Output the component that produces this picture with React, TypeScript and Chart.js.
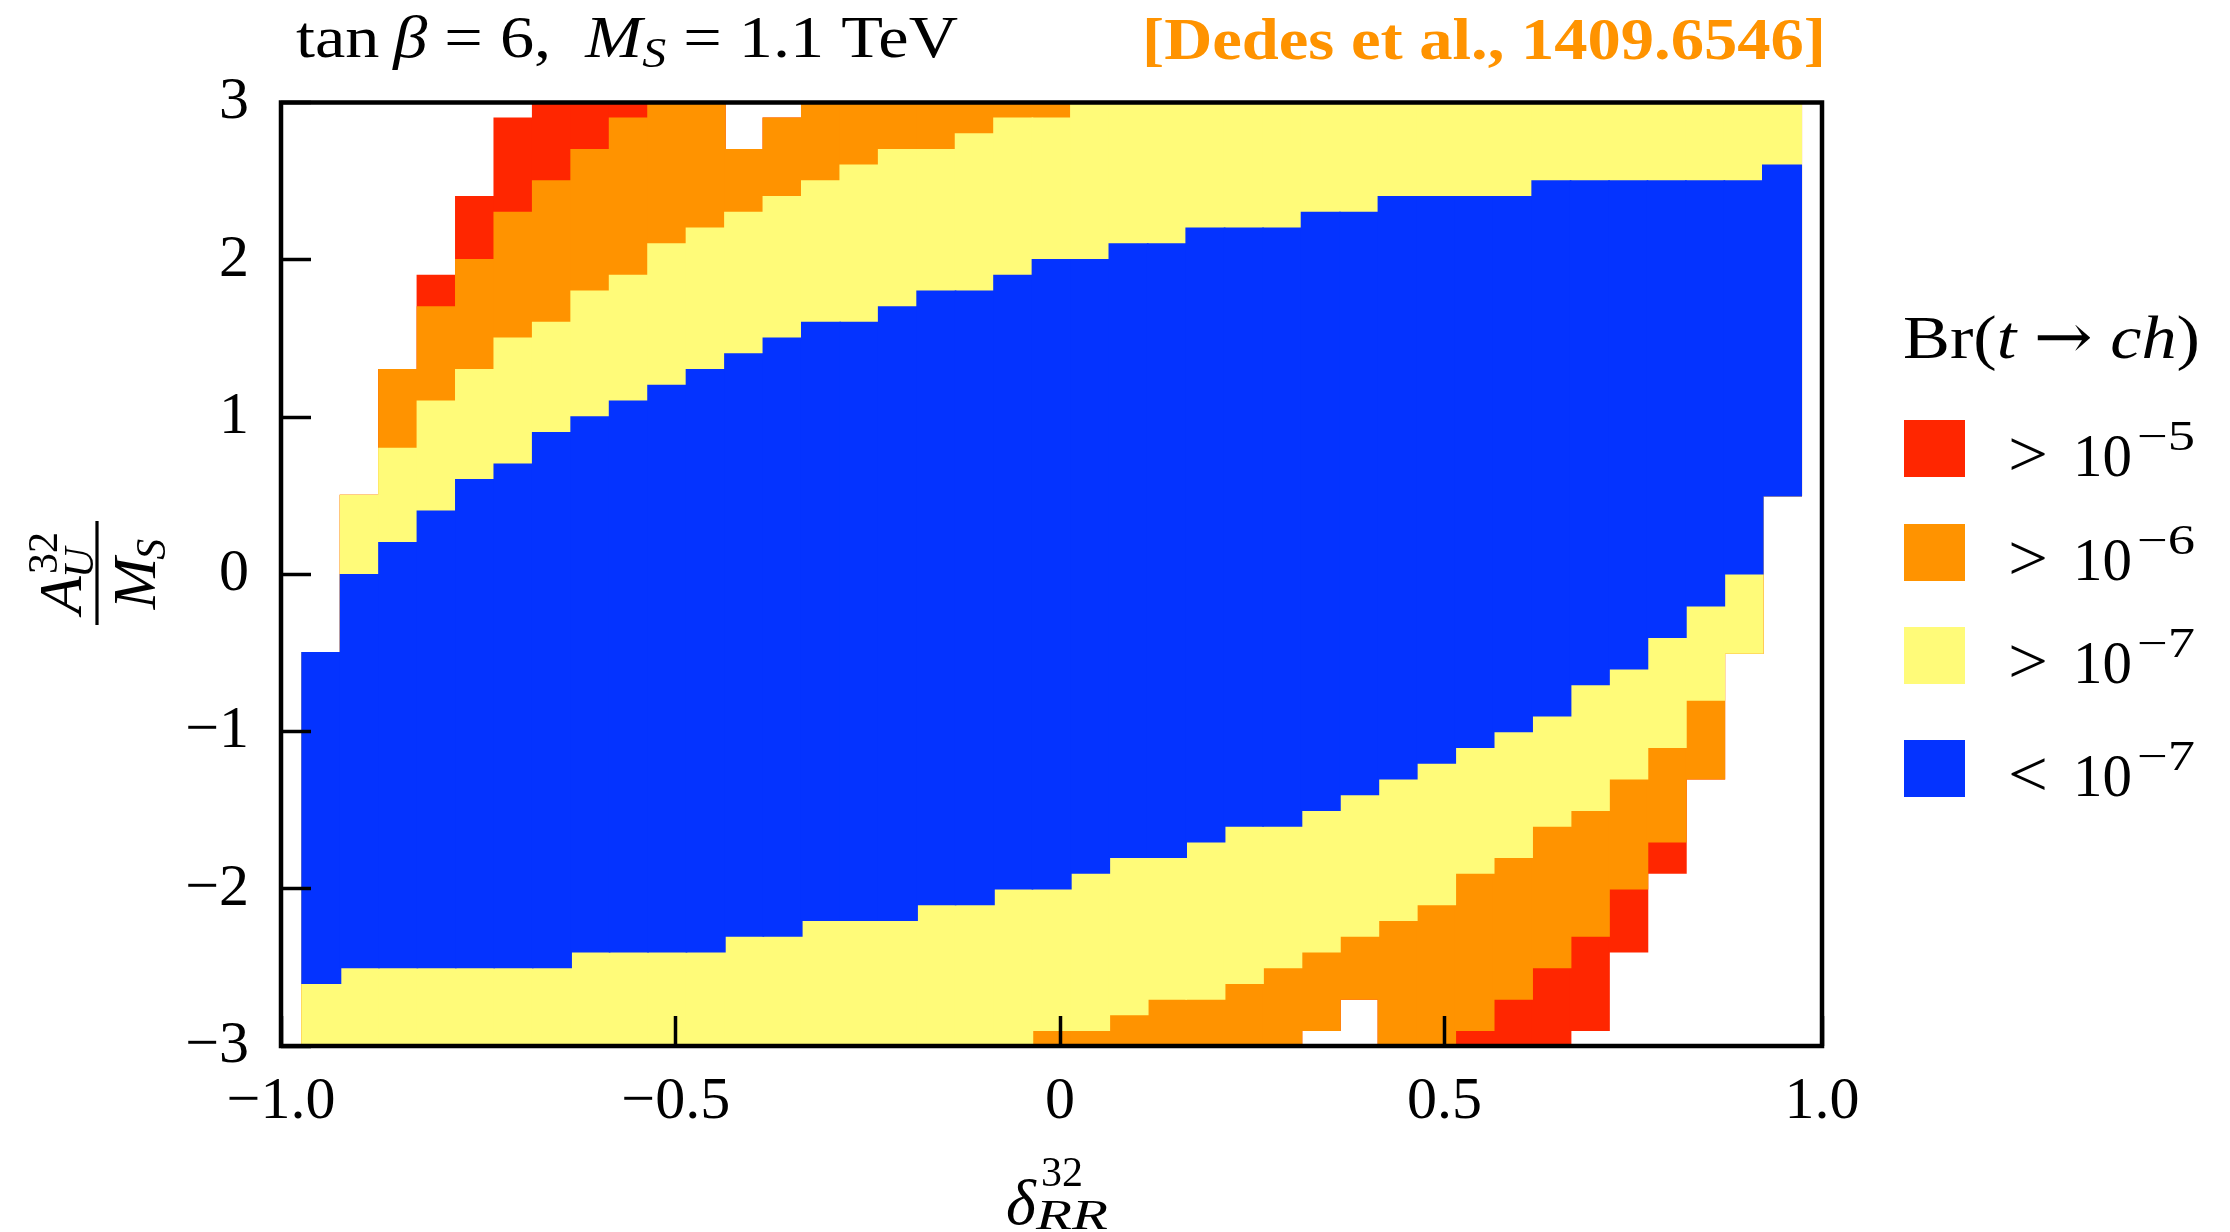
import React, { useEffect, useRef } from "react";
import { Chart, registerables } from "chart.js";

Chart.register(...registerables);

// ---------- data ----------
const X_MIN = -1.0134;
const X_MAX = 0.991;
const Y_MIN = -3;
const Y_MAX = 3;

// centres of the delta_RR^32 columns
const xCenters = [
  -0.961, -0.911, -0.861, -0.811, -0.761, -0.711, -0.661, -0.611, -0.561, -0.511,
  -0.461, -0.411, -0.361, -0.311, -0.261, -0.211, -0.161, -0.111, -0.061, -0.011,
  0.039, 0.089, 0.139, 0.189, 0.239, 0.289, 0.339, 0.389, 0.439, 0.489,
  0.539, 0.589, 0.639, 0.689, 0.739, 0.789, 0.839, 0.889, 0.939,
];

// Br < 1e-7 region (blue)
const blueLo = [
  -2.6, -2.5, -2.5, -2.5, -2.5, -2.5, -2.5, -2.4, -2.4, -2.4,
  -2.4, -2.3, -2.3, -2.2, -2.2, -2.2, -2.1, -2.1, -2.0, -2.0,
  -1.9, -1.8, -1.8, -1.7, -1.6, -1.6, -1.5, -1.4, -1.3, -1.2,
  -1.1, -1.0, -0.9, -0.7, -0.6, -0.4, -0.2, 0.0, 0.5,
];
const blueHi = [
  -0.5, 0.0, 0.2, 0.4, 0.6, 0.7, 0.9, 1.0, 1.1, 1.2,
  1.3, 1.4, 1.5, 1.6, 1.6, 1.7, 1.8, 1.8, 1.9, 2.0,
  2.0, 2.1, 2.1, 2.2, 2.2, 2.2, 2.3, 2.3, 2.4, 2.4,
  2.4, 2.4, 2.5, 2.5, 2.5, 2.5, 2.5, 2.5, 2.6,
];

// outer extent of Br > 1e-7 (yellow)
const yellowLo = [
  -3, -3, -3, -3, -3, -3, -3, -3, -3, -3,
  -3, -3, -3, -3, -3, -3, -3, -3, -3, -2.9,
  -2.9, -2.8, -2.7, -2.7, -2.6, -2.5, -2.4, -2.3, -2.2, -2.1,
  -1.9, -1.8, -1.6, -1.5, -1.3, -1.1, -0.8, -0.5, 0.5,
];
const yellowHi = [
  -0.5, 0.5, 0.8, 1.1, 1.3, 1.5, 1.6, 1.8, 1.9, 2.1,
  2.2, 2.3, 2.4, 2.5, 2.6, 2.7, 2.7, 2.8, 2.9, 2.9,
  3, 3, 3, 3, 3, 3, 3, 3, 3, 3,
  3, 3, 3, 3, 3, 3, 3, 3, 3,
];

// outer extent of Br > 1e-6 (orange)
const orangeLo = [
  -3, -3, -3, -3, -3, -3, -3, -3, -3, -3,
  -3, -3, -3, -3, -3, -3, -3, -3, -3, -3,
  -3, -3, -3, -3, -3, -3, -2.9, -2.7, -3, -3,
  -2.9, -2.7, -2.5, -2.3, -2.0, -1.7, -1.3, -0.5, 0.5,
];
const orangeHi = [
  -0.5, 0.5, 1.3, 1.7, 2.0, 2.3, 2.5, 2.7, 2.9, 3,
  3, 2.7, 2.9, 3, 3, 3, 3, 3, 3, 3,
  3, 3, 3, 3, 3, 3, 3, 3, 3, 3,
  3, 3, 3, 3, 3, 3, 3, 3, 3,
];

// outer extent of Br > 1e-5 (red)
const redLo = [
  -3, -3, -3, -3, -3, -3, -3, -3, -3, -3,
  -3, -3, -3, -3, -3, -3, -3, -3, -3, -3,
  -3, -3, -3, -3, -3, -3, -2.9, -2.7, -3, -3,
  -3, -3, -3, -2.9, -2.4, -1.9, -1.3, -0.5, 0.5,
];
const redHi = [
  -0.5, 0.5, 1.3, 1.9, 2.4, 2.9, 3, 3, 3, 3,
  3, 2.7, 2.9, 3, 3, 3, 3, 3, 3, 3,
  3, 3, 3, 3, 3, 3, 3, 3, 3, 3,
  3, 3, 3, 3, 3, 3, 3, 3, 3,
];

const xTickValues = [X_MIN, -0.5, 0, 0.5, X_MAX];
const xTickLabels = ["\u22121.0", "\u22120.5", "0", "0.5", "1.0"];
const yTickValues = [-3, -2, -1, 0, 1, 2, 3];
const yTickLabels = ["\u22123", "\u22122", "\u22121", "0", "1", "2", "3"];

const legendRelations = [">", ">", ">", "<"];
const legendExponents = ["\u22125", "\u22126", "\u22127", "\u22127"];
const legendDatasetIndex = [3, 2, 1, 0];

const RED = "#FF2600";
const ORANGE = "#FF9300";
const YELLOW = "#FFFB79";
const BLUE = "#0433FF";
const CITE_COLOR = "#FF9300";

const FONT = '"Liberation Serif", "Times New Roman", serif';

// ---------- text helpers ----------
type Seg = { t: string; it?: boolean; b?: boolean; s: number; dy?: number; dx?: number; f?: string };

function fontOf(seg: Seg) {
  return `${seg.it ? "italic " : ""}${seg.b ? "bold " : ""}${seg.s}px ${seg.f || FONT}`;
}

function segWidth(ctx: CanvasRenderingContext2D, segs: Seg[]) {
  let w = 0;
  for (const sg of segs) {
    ctx.font = fontOf(sg);
    w += ctx.measureText(sg.t).width + (sg.dx || 0);
  }
  return w;
}

function drawSegs(
  ctx: CanvasRenderingContext2D,
  segs: Seg[],
  x: number,
  y: number,
  targetWidth?: number,
  color = "#000"
) {
  const w = segWidth(ctx, segs);
  const sx = targetWidth ? targetWidth / w : 1;
  ctx.save();
  ctx.translate(x, y);
  ctx.scale(sx, 1);
  ctx.fillStyle = color;
  ctx.textBaseline = "alphabetic";
  ctx.textAlign = "left";
  let cx = 0;
  for (const sg of segs) {
    ctx.font = fontOf(sg);
    cx += sg.dx || 0;
    ctx.fillText(sg.t, cx, sg.dy || 0);
    cx += ctx.measureText(sg.t).width;
  }
  ctx.restore();
}

const framePlugin = {
  id: "frame",
  afterDraw(chart: any) {
    const { ctx, chartArea: a } = chart;
    ctx.save();
    ctx.strokeStyle = "#000";
    ctx.lineWidth = 4.5;
    ctx.strokeRect(a.left, a.top, a.right - a.left, a.bottom - a.top);
    ctx.restore();
  },
};

const textPlugin = {
  id: "texts",
  afterDraw(chart: any) {
    const ctx: CanvasRenderingContext2D = chart.ctx;

    // top-left title
    drawSegs(
      ctx,
      [
        { t: "tan", s: 60 },
        { t: "\u2009", s: 60 },
        { t: "\u03B2", it: true, s: 60 },
        { t: " = 6,  ", s: 60 },
        { t: "M", it: true, s: 60 },
        { t: "S", it: true, s: 42, dy: 10 },
        { t: " = 1.1 TeV", s: 60 },
      ],
      296,
      57,
      662
    );

    // top-right citation
    drawSegs(ctx, [{ t: "[Dedes et al., 1409.6546]", b: true, s: 60 }], 1142, 59, 684, CITE_COLOR);

    // legend title
    drawSegs(
      ctx,
      [
        { t: "Br(", s: 62 },
        { t: "t", it: true, s: 62 },
        { t: " ", s: 62 },
        { t: "\u2192", s: 62, f: '"DejaVu Serif", serif' },
        { t: " ", s: 62 },
        { t: "ch", it: true, s: 62 },
        { t: ")", s: 62 },
      ],
      1903,
      358,
      297
    );

    // legend entries
    const rowTops = [420, 524, 627, 740];
    legendDatasetIndex.forEach((di, r) => {
      const ds = chart.data.datasets[di];
      const top = rowTops[r];
      ctx.save();
      ctx.fillStyle = ds.backgroundColor;
      ctx.fillRect(1904, top, 61, 57);
      ctx.restore();
      const base = top + 56;
      drawSegs(ctx, [{ t: legendRelations[r], s: 66 }], 2008, base, 40);
      drawSegs(ctx, [{ t: "10", s: 62 }], 2073, base, 59);
      drawSegs(ctx, [{ t: legendExponents[r], s: 42 }], 2137, base - 26, 58);
    });

    // x axis title  delta^{32}_{RR}
    drawSegs(ctx, [{ t: "\u03B4", it: true, s: 64 }], 1006, 1224);
    drawSegs(ctx, [{ t: "32", s: 42 }], 1041, 1186);
    drawSegs(ctx, [{ t: "RR", it: true, s: 42 }], 1036, 1229, 72);

    // y axis title  A^{32}_U / M_S  (rotated)
    ctx.save();
    ctx.translate(97, 573);
    ctx.rotate(-Math.PI / 2);
    ctx.fillStyle = "#000";
    ctx.textBaseline = "alphabetic";
    ctx.textAlign = "left";
    // numerator
    ctx.font = `italic 62px ${FONT}`;
    const wA = ctx.measureText("A").width;
    ctx.font = `42px ${FONT}`;
    const w32 = ctx.measureText("32").width;
    ctx.font = `italic 42px ${FONT}`;
    const wU = ctx.measureText("U").width;
    const numW = wA + Math.max(w32, wU) + 2;
    const nx = -numW / 2;
    const nBase = -16;
    ctx.font = `italic 62px ${FONT}`;
    ctx.fillText("A", nx, nBase);
    ctx.font = `42px ${FONT}`;
    ctx.fillText("32", nx + wA + 2, nBase - 24);
    ctx.font = `italic 42px ${FONT}`;
    ctx.fillText("U", nx + wA - 2, nBase + 12);
    // bar
    ctx.fillRect(-52, -1.6, 104, 3.2);
    // denominator
    ctx.font = `italic 62px ${FONT}`;
    const wM = ctx.measureText("M").width;
    ctx.font = `italic 42px ${FONT}`;
    const wS = ctx.measureText("S").width;
    const denW = wM + wS;
    const dx0 = -denW / 2;
    const dBase = 58;
    ctx.font = `italic 62px ${FONT}`;
    ctx.fillText("M", dx0, dBase);
    ctx.font = `italic 42px ${FONT}`;
    ctx.fillText("S", dx0 + wM - 2, dBase + 10);
    ctx.restore();
  },
};

function band(label: string, lo: number[], hi: number[], color: string) {
  return {
    label,
    data: xCenters.map((x, i) => ({ x, y: [lo[i], hi[i]] })),
    backgroundColor: color,
    borderWidth: 0,
    grouped: false,
    barPercentage: 1,
    categoryPercentage: 1,
    inflateAmount: 0.8,
  };
}

export default function App() {
  const ref = useRef<HTMLCanvasElement>(null);

  useEffect(() => {
    const canvas = ref.current;
    if (!canvas) return;
    const tickFont = { family: FONT, size: 60 };
    const chart = new Chart(canvas, {
      type: "bar",
      data: {
        datasets: [
          band("< 10^-7", blueLo, blueHi, BLUE),
          band("> 10^-7", yellowLo, yellowHi, YELLOW),
          band("> 10^-6", orangeLo, orangeHi, ORANGE),
          band("> 10^-5", redLo, redHi, RED),
        ] as any,
      },
      options: {
        responsive: false,
        animation: false,
        devicePixelRatio: 1,
        layout: { padding: { left: 0, right: 408, top: 102.5, bottom: 0 } },
        plugins: {
          legend: { display: false },
          tooltip: { enabled: false },
          title: { display: false },
        },
        scales: {
          x: {
            type: "linear",
            offset: false,
            min: X_MIN,
            max: X_MAX,
            afterBuildTicks: (scale: any) => {
              scale.ticks = xTickValues.map((v) => ({ value: v }));
            },
            afterFit: (scale: any) => {
              scale.height = 186;
            },
            ticks: {
              autoSkip: false,
              maxRotation: 0,
              minRotation: 0,
              padding: 50,
              color: "#000",
              font: tickFont,
              callback: (_v: any, i: number) => xTickLabels[i],
            },
            grid: {
              display: true,
              offset: false,
              drawOnChartArea: false,
              drawTicks: true,
              tickLength: -30,
              tickWidth: 3.5,
              tickColor: "#000",
              z: 1,
            },
            border: { display: false },
          },
          y: {
            type: "linear",
            min: Y_MIN,
            max: Y_MAX,
            afterBuildTicks: (scale: any) => {
              scale.ticks = yTickValues.map((v) => ({ value: v }));
            },
            afterFit: (scale: any) => {
              scale.width = 281;
            },
            ticks: {
              autoSkip: false,
              padding: 62,
              color: "#000",
              font: tickFont,
              callback: (v: any) => yTickLabels[yTickValues.indexOf(Number(v))],
            },
            grid: {
              display: true,
              offset: false,
              drawOnChartArea: false,
              drawTicks: true,
              tickLength: -30,
              tickWidth: 3.5,
              tickColor: "#000",
              z: 1,
            },
            border: { display: false },
          },
        },
      } as any,
      plugins: [framePlugin, textPlugin],
    });
    return () => chart.destroy();
  }, []);

  return (
    <div
      style={{
        position: "fixed",
        left: 0,
        top: 0,
        width: 2230,
        height: 1232,
        background: "#fff",
      }}
    >
      <canvas ref={ref} width={2230} height={1232} style={{ display: "block", width: 2230, height: 1232 }} />
    </div>
  );
}
